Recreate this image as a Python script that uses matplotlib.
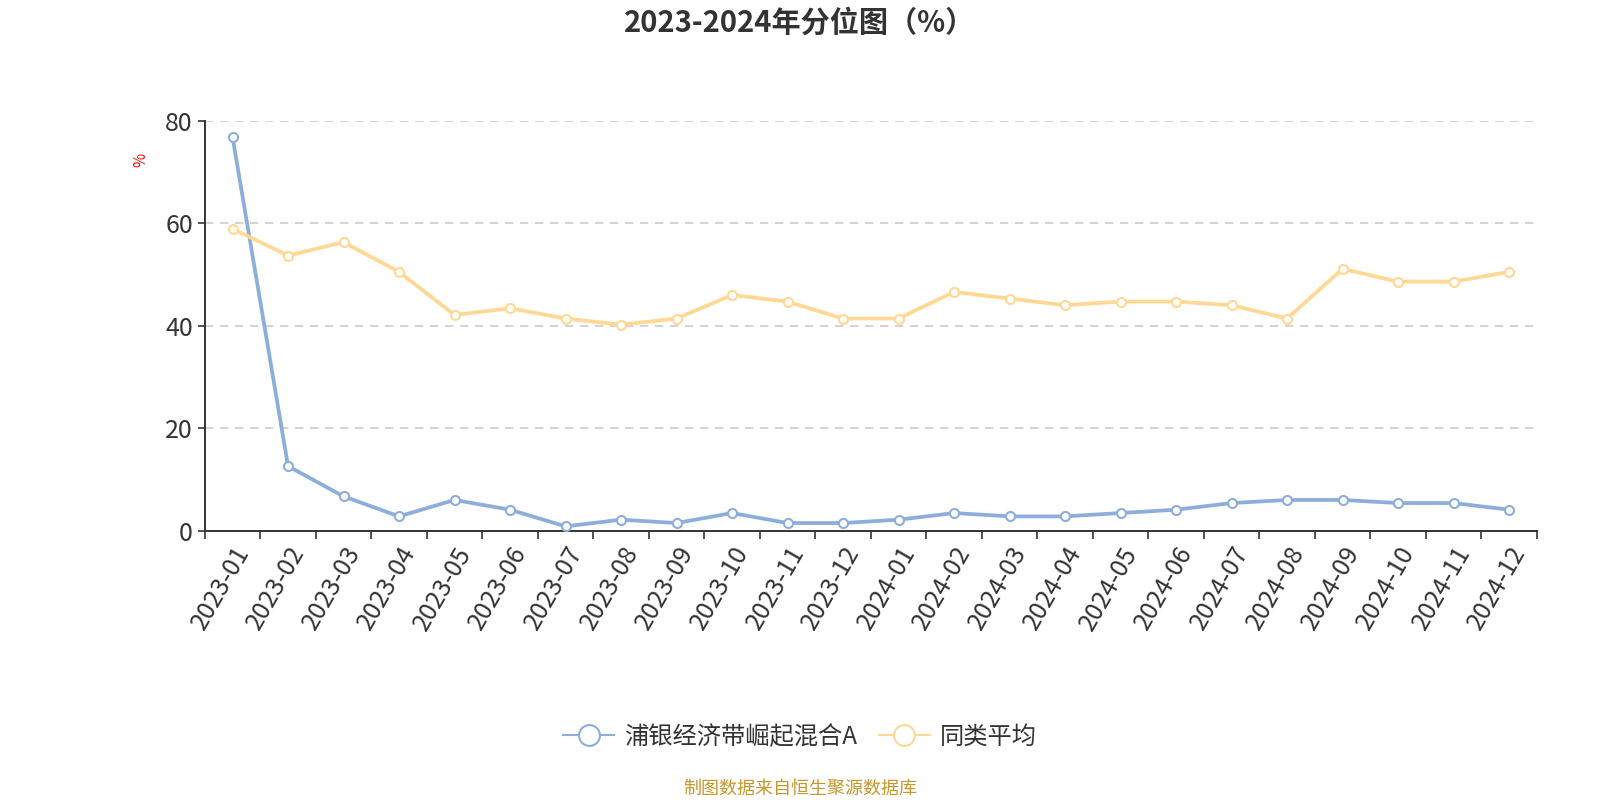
import matplotlib
matplotlib.use("Agg")
import matplotlib.pyplot as plt
from matplotlib.lines import Line2D
import numpy as np

plt.rcParams['font.family'] = ['Noto Sans CJK SC', 'DejaVu Sans']

months = ['2023-01', '2023-02', '2023-03', '2023-04', '2023-05', '2023-06',
          '2023-07', '2023-08', '2023-09', '2023-10', '2023-11', '2023-12',
          '2024-01', '2024-02', '2024-03', '2024-04', '2024-05', '2024-06',
          '2024-07', '2024-08', '2024-09', '2024-10', '2024-11', '2024-12']
fund = [76.8, 12.6, 6.7, 2.8, 6.0, 4.1, 0.85, 2.15, 1.5, 3.45, 1.5, 1.5,
        2.15, 3.45, 2.8, 2.8, 3.45, 4.1, 5.4, 6.0, 6.0, 5.4, 5.4, 4.1]
peer = [58.9, 53.7, 56.3, 50.5, 42.1, 43.4, 41.4, 40.2, 41.4, 46.0, 44.7, 41.4,
        41.4, 46.6, 45.3, 44.0, 44.7, 44.7, 44.0, 41.4, 51.1, 48.6, 48.6, 50.5]
fund_name = '浦银经济带崛起混合A'
peer_name = '同类平均'
yticks = [0, 20, 40, 60, 80]

blue = '#8DADDB'
orange = '#FFD894'
dark = '#333333'

fig = plt.figure(figsize=(16, 8), dpi=100)
ax = fig.add_axes([0.128, 0.3366, 0.8325, 0.5125])

x = np.arange(len(months))
ax.plot(x, fund, color=blue, lw=2.7, marker='o', ms=6.5, mfc='white',
        mec=blue, mew=1.5, zorder=3)
ax.plot(x, peer, color=orange, lw=2.7, marker='o', ms=6.5, mfc='white',
        mec=orange, mew=1.5, zorder=3)

ax.set_xlim(-0.5, len(months) - 0.5)
ax.set_ylim(0, 80)
ax.set_yticks(yticks)
ax.tick_params(axis='y', labelsize=18, colors=dark, length=5, width=1.2)
ax.set_xticks(x)
ax.set_xticklabels(months, rotation=60, ha='right', rotation_mode='anchor',
                   fontsize=18, color=dark)
ax.tick_params(axis='x', which='major', length=0, pad=8)
ax.set_xticks(np.arange(-0.5, len(months), 1.0), minor=True)
ax.tick_params(axis='x', which='minor', length=6, width=1.2, color=dark)

for v in yticks[1:]:
    ax.axhline(v, color='#cccccc', lw=1.2, ls=(0, (5, 4)), zorder=1)

for s in ['top', 'right']:
    ax.spines[s].set_visible(False)
for s in ['left', 'bottom']:
    ax.spines[s].set_color(dark)
    ax.spines[s].set_linewidth(1.4)

fig.text(0.5, 0.972, '2023-2024年分位图（%）', ha='center', va='center',
         fontsize=21, fontweight='bold', color=dark)
fig.text(0.088, 0.8, '%', color='red', rotation=90, ha='center', va='center',
         fontsize=11)

handles = [
    Line2D([0], [0], color=blue, lw=1.5, marker='o', ms=15, mfc='white',
           mec=blue, mew=1.5),
    Line2D([0], [0], color=orange, lw=1.5, marker='o', ms=15, mfc='white',
           mec=orange, mew=1.5),
]
fig.legend(handles, [fund_name, peer_name], loc='center',
           bbox_to_anchor=(0.5, 1 - 737 / 800), ncol=2, frameon=False,
           fontsize=17.5, handlelength=2.1, handletextpad=0.4,
           columnspacing=0.9, labelcolor=dark)

fig.text(0.5, 1 - 789 / 800, '制图数据来自恒生聚源数据库', ha='center',
         va='center', fontsize=13, color='#C8962A')

fig.savefig('out.png', dpi=100)
